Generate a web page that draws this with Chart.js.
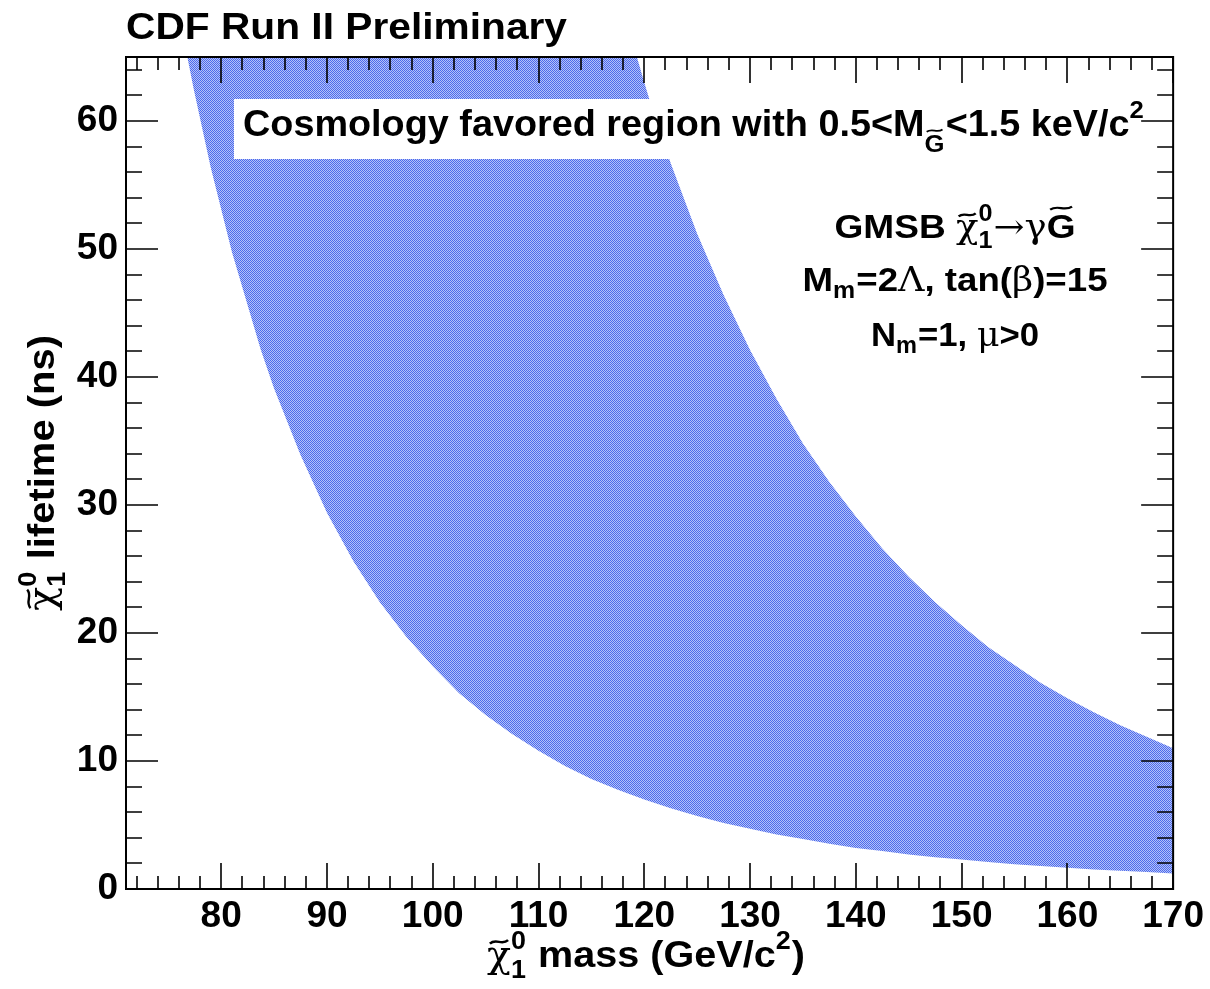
<!DOCTYPE html>
<html lang="en">
<head>
<meta charset="UTF-8">
<title>CDF Run II Preliminary - neutralino lifetime vs mass</title>
<style>
  body { margin: 0; background: #fff; }
  #wrap { width: 1210px; height: 989px; position: relative; }
</style>
</head>
<body>
<div id="wrap"><canvas id="chart"></canvas></div>
<script src="https://cdn.jsdelivr.net/npm/chart.js@4"></script>
<script>
// lower (left) edge of the cosmology favoured band
const lowMass = [76.8, 77.4, 79, 81, 83.75, 85, 87.5, 90, 92.5, 95, 97.5, 100, 102.5, 105, 107.5, 110, 112.5, 115, 117.5, 120, 122.5, 125, 127.5, 130, 132.5, 135, 137.5, 140, 142.5, 145, 147.5, 150, 152.5, 155, 157.5, 160, 162.5, 165, 167.5, 170];
const lowLife = [65, 62.5, 56.4, 49.8, 42.1, 39.1, 33.9, 29.4, 25.6, 22.4, 19.7, 17.4, 15.3, 13.6, 12.1, 10.8, 9.6, 8.6, 7.75, 7.0, 6.3, 5.7, 5.15, 4.7, 4.25, 3.9, 3.53, 3.2, 2.96, 2.7, 2.49, 2.3, 2.11, 1.94, 1.79, 1.66, 1.53, 1.42, 1.32, 1.22];
// upper (right) edge of the band
const upMass = [119.3, 120, 121, 122.5, 125, 127.5, 130, 132.5, 135, 137.5, 140, 142.5, 145, 147.5, 150, 152.5, 155, 157.5, 160, 162.5, 165, 167.5, 170];
const upLife = [65, 63.0, 60.3, 56.7, 51.2, 46.4, 42.1, 38.3, 34.8, 31.8, 29.1, 26.6, 24.4, 22.4, 20.6, 18.9, 17.5, 16.1, 14.9, 13.8, 12.8, 11.9, 11.0];

const xTicks = [80, 90, 100, 110, 120, 130, 140, 150, 160, 170];
const yTicks = [0, 10, 20, 30, 40, 50, 60];

const FAM = '"Liberation Sans", Arial, Helvetica, sans-serif';
const GFAM = '"DejaVu Serif", "Liberation Serif", serif';

// closed outline: down the lower edge, back up the upper edge
const band = lowMass.map((m, i) => ({ x: m, y: lowLife[i] }));
for (let i = upMass.length - 1; i >= 0; i--) band.push({ x: upMass[i], y: upLife[i] });

const canvas = document.getElementById('chart');
const ctx = canvas.getContext('2d');

function bandPattern() {
    const c = document.createElement('canvas');
    c.width = 2; c.height = 2;
    const g = c.getContext('2d');
    g.fillStyle = '#b4c2f8';
    g.fillRect(0, 0, 2, 2);
    g.fillStyle = '#4d6aec';
    g.fillRect(0, 0, 1, 1);
    g.fillRect(1, 1, 1, 1);
    return ctx.createPattern(c, 'repeat');
}

// --- small rich-text helper (bold sans, greek, sub/sup, tilde) ---
function setFont(c, kind, size) {
    c.font = kind === 'g' ? `${size}px ${GFAM}` : `bold ${size}px ${FAM}`;
}
function partWidth(c, p, size) {
    if (p.sub !== undefined || p.sup !== undefined) {
        setFont(c, 'b', size * 0.68);
        const a = p.sub ? c.measureText(p.sub).width : 0;
        const b = p.sup ? c.measureText(p.sup).width : 0;
        return Math.max(a, b) + size * 0.03;
    }
    setFont(c, p.g ? 'g' : 'b', size);
    return c.measureText(p.g || p.t).width;
}
function tilde(c, x, w, y, size) {
    const amp = size * 0.045;
    c.beginPath();
    c.moveTo(x, y + amp);
    c.bezierCurveTo(x + w * 0.35, y - amp * 2.4, x + w * 0.65, y + amp * 2.4, x + w, y - amp);
    c.lineWidth = size * 0.065;
    c.strokeStyle = '#000';
    c.stroke();
}
function drawRich(c, parts, x, y, size, align, fitW) {
    let w = 0;
    for (const p of parts) w += partWidth(c, p, size);
    const sx = fitW ? fitW / w : 1;
    c.save();
    c.translate(align === 'center' ? x - w * sx / 2 : x, y);
    c.scale(sx, 1);
    c.fillStyle = '#000';
    c.textAlign = 'left';
    c.textBaseline = 'alphabetic';
    let cx = 0;
    for (const p of parts) {
        const pw = partWidth(c, p, size);
        if (p.sub !== undefined || p.sup !== undefined) {
            const subY = size * (p.low || 0.3);
            if (p.sup) c.fillText(p.sup, cx, -size * 0.5);
            if (p.sub) c.fillText(p.sub, cx, subY);
            if (p.tilde) tilde(c, cx + pw * 0.1, pw * 0.75, subY - size * 0.6, size * 0.7);
        } else {
            c.fillText(p.g || p.t, cx, 0);
            if (p.tilde) tilde(c, cx + pw * 0.12, pw * 0.76, -size * (p.g ? 0.68 : 0.88), size);
        }
        cx += pw;
    }
    c.restore();
}

const titleParts = [{ t: 'CDF Run II Preliminary' }];
const cosmoParts = [{ t: 'Cosmology favored region with 0.5<M' }, { sub: 'G', tilde: true, low: 0.45 }, { t: '<1.5 keV/c' }, { sup: '2' }];
const gmsb1 = [{ t: 'GMSB ' }, { g: 'χ', tilde: true }, { sub: '1', sup: '0' }, { g: '→γ' }, { t: 'G', tilde: true }];
const gmsb2 = [{ t: 'M' }, { sub: 'm', low: 0.22 }, { t: '=2' }, { g: 'Λ' }, { t: ', tan(' }, { g: 'β' }, { t: ')=15' }];
const gmsb3 = [{ t: 'N' }, { sub: 'm', low: 0.22 }, { t: '=1, ' }, { g: 'μ' }, { t: '>0' }];
const xTitle = [{ g: 'χ', tilde: true }, { sub: '1', sup: '0' }, { t: ' mass (GeV/c' }, { sup: '2' }, { t: ')' }];
const yTitle = [{ g: 'χ', tilde: true }, { sub: '1', sup: '0' }, { t: ' lifetime (ns)' }];

const rootFrame = {
    id: 'rootFrame',
    afterDatasetsDraw(chart) {
        const c = chart.ctx;
        const a = chart.chartArea;
        const x = chart.scales.x, y = chart.scales.y;

        // white box holding the band label
        c.save();
        c.fillStyle = '#fff';
        c.fillRect(234, 99, 916, 60);
        c.restore();
        drawRich(c, cosmoParts, 243, 136, 36, 'left', 902);

        drawRich(c, gmsb1, 955, 238, 34, 'center', 241);
        drawRich(c, gmsb2, 955, 291, 34, 'center', 305);
        drawRich(c, gmsb3, 955, 346, 34, 'center', 168);

        drawRich(c, titleParts, 126, 39, 37, 'left', 441);
        drawRich(c, xTitle, 646, 967, 37, 'center', 318);
        c.save();
        c.translate(54, 473);
        c.rotate(-Math.PI / 2);
        drawRich(c, yTitle, 0, 0, 37, 'center', 276);
        c.restore();

        // inward ticks on all four sides, then the frame
        c.save();
        c.strokeStyle = '#000';
        c.lineWidth = 1.6;
        c.beginPath();
        for (let v = Math.ceil(x.min / 2) * 2; v <= x.max; v += 2) {
            const px = Math.round(x.getPixelForValue(v));
            const len = v % 10 === 0 ? 26 : 13;
            c.moveTo(px, a.bottom); c.lineTo(px, a.bottom - len);
            c.moveTo(px, a.top); c.lineTo(px, a.top + len);
        }
        for (let v = 0; v <= y.max; v += 2) {
            const py = Math.round(y.getPixelForValue(v));
            const len = v % 10 === 0 ? 32 : 16;
            c.moveTo(a.left, py); c.lineTo(a.left + len, py);
            c.moveTo(a.right, py); c.lineTo(a.right - len, py);
        }
        c.stroke();
        c.lineWidth = 2;
        c.strokeRect(a.left, a.top, a.right - a.left, a.bottom - a.top);
        c.restore();
    }
};

const tickFont = { family: FAM, size: 37, weight: 'bold' };

new Chart(ctx, {
    type: 'line',
    data: {
        datasets: [{
            data: band,
            fill: 'shape',
            backgroundColor: bandPattern(),
            borderWidth: 0,
            pointRadius: 0,
            tension: 0
        }]
    },
    options: {
        responsive: true,
        maintainAspectRatio: false,
        animation: false,
        layout: { padding: { top: 57, right: 35, left: 0, bottom: 0 } },
        plugins: { legend: { display: false }, tooltip: { enabled: false } },
        scales: {
            x: {
                type: 'linear',
                min: 71,
                max: 170,
                grid: { display: false, drawTicks: false },
                border: { display: false },
                afterBuildTicks: s => { s.ticks = xTicks.map(v => ({ value: v })); },
                afterFit: s => { s.height = 100; },
                ticks: { font: tickFont, color: '#000', padding: 6, maxRotation: 0, autoSkip: false }
            },
            y: {
                min: 0,
                max: 65,
                grid: { display: false, drawTicks: false },
                border: { display: false },
                afterBuildTicks: s => { s.ticks = yTicks.map(v => ({ value: v })); },
                afterFit: s => { s.width = 126; },
                ticks: { font: tickFont, color: '#000', padding: 8, autoSkip: false }
            }
        }
    },
    plugins: [rootFrame]
});
</script>
</body>
</html>
